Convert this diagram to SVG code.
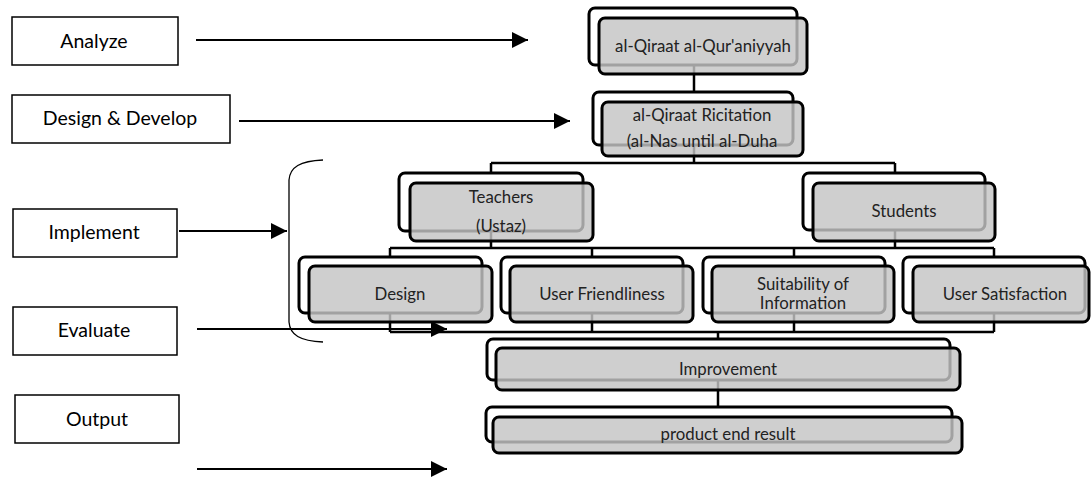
<svg xmlns="http://www.w3.org/2000/svg" width="1091" height="477" viewBox="0 0 1091 477">
<defs>
<style>
.lbl{fill:#fff;stroke:#000;stroke-width:1.5}
.lt{font-family:Lato,"Liberation Sans",sans-serif;font-size:19.5px;fill:#000;text-anchor:middle}
.back{fill:#fff;stroke:#000;stroke-width:3}
.front{fill:#c4c4c4;fill-opacity:0.82;stroke:#000;stroke-width:3}
.nt{font-family:Lato,"Liberation Sans",sans-serif;font-size:16.8px;fill:#222;text-anchor:middle}
.con{fill:none;stroke:#000;stroke-width:2.5}
.arr{fill:none;stroke:#000;stroke-width:2}
</style>
<marker id="ah2" viewBox="0 0 16 16" refX="16" refY="8" markerWidth="16" markerHeight="16" markerUnits="userSpaceOnUse" orient="auto">
<path d="M0,0 L16,8 L0,16 Z" fill="#000"/>
</marker>
</defs>

<g id="connectors">
<path class="con" d="M694,65 V92"/>
<path class="con" d="M694,145 V163 M491,163 H895 M491,163 V173 M895,163 V173"/>
<path class="con" d="M491,231 V248 M895,230 V248 M390,248 H994 M390,248 V257 M592,248 V257 M794,248 V257 M994,248 V257"/>
<path class="con" d="M390,313 V332 M592,313 V332 M794,313 V332 M994,313 V332 M390,332 H994 M718,332 V339"/>
<path class="con" d="M718,380 V407"/>
</g>

<g id="phase-arrows">
<path class="arr" d="M196,40 H528" marker-end="url(#ah2)"/>
<path class="arr" d="M239,121 H570" marker-end="url(#ah2)"/>
<path class="arr" d="M179,231 H287" marker-end="url(#ah2)"/>
<path class="arr" d="M197,329 H447" marker-end="url(#ah2)"/>
<path class="arr" d="M197,469 H447" marker-end="url(#ah2)"/>
<path fill="none" stroke="#000" stroke-width="1.3" d="M323,160 C300,161 290,167 289,180 L289,322 C290,335 300,341 323,342"/>
</g>

<g id="analyze"><rect class="lbl" x="12" y="17" width="166" height="48"/><text class="lt" x="94" y="48">Analyze</text></g>
<g id="design-develop"><rect class="lbl" x="12" y="95" width="218" height="48"/><text class="lt" x="120" y="125">Design &amp; Develop</text></g>
<g id="implement"><rect class="lbl" x="13" y="209" width="164" height="48"/><text class="lt" x="94" y="239">Implement</text></g>
<g id="evaluate"><rect class="lbl" x="13" y="307" width="164" height="48"/><text class="lt" x="94" y="337">Evaluate</text></g>
<g id="output"><rect class="lbl" x="15" y="395" width="164" height="48"/><text class="lt" x="97" y="426">Output</text></g>

<g id="quraniyyah">
<rect class="back" x="589" y="8" width="208" height="57" rx="6"/>
<rect class="front" x="599" y="18" width="208" height="56" rx="6"/>
<text class="nt" x="703" y="52">al-Qiraat al-Qur'aniyyah</text>
</g>
<g id="ricitation">
<rect class="back" x="593" y="92" width="200" height="53" rx="6"/>
<rect class="front" x="602" y="102" width="201" height="54" rx="6"/>
<text class="nt" x="702" y="121">al-Qiraat Ricitation</text>
<text class="nt" x="702" y="147">(al-Nas until al-Duha</text>
</g>
<g id="teachers">
<rect class="back" x="399" y="173" width="184" height="58" rx="6"/>
<rect class="front" x="410" y="183" width="183" height="58" rx="6"/>
<text class="nt" x="501" y="203">Teachers</text>
<text class="nt" x="501" y="232">(Ustaz)</text>
</g>
<g id="students">
<rect class="back" x="803" y="173" width="182" height="57" rx="6"/>
<rect class="front" x="813" y="183" width="182" height="58" rx="6"/>
<text class="nt" x="904" y="217">Students</text>
</g>
<g id="design">
<rect class="back" x="299" y="257" width="183" height="56" rx="6"/>
<rect class="front" x="309" y="266" width="183" height="56" rx="6"/>
<text class="nt" x="400" y="300">Design</text>
</g>
<g id="user-friendliness">
<rect class="back" x="501" y="257" width="182" height="56" rx="6"/>
<rect class="front" x="510" y="266" width="183" height="56" rx="6"/>
<text class="nt" x="602" y="300">User Friendliness</text>
</g>
<g id="suitability">
<rect class="back" x="703" y="257" width="182" height="56" rx="6"/>
<rect class="front" x="712" y="266" width="182" height="56" rx="6"/>
<text class="nt" x="803" y="290">Suitability of</text>
<text class="nt" x="803" y="309">Information</text>
</g>
<g id="user-satisfaction">
<rect class="back" x="903" y="257" width="182" height="56" rx="6"/>
<rect class="front" x="913" y="266" width="176" height="56" rx="6"/>
<text class="nt" x="1005" y="300">User Satisfaction</text>
</g>
<g id="improvement">
<rect class="back" x="487" y="339" width="463" height="41" rx="6"/>
<rect class="front" x="496" y="348" width="464" height="42" rx="6"/>
<text class="nt" x="728" y="375">Improvement</text>
</g>
<g id="product">
<rect class="back" x="486" y="407" width="466" height="35" rx="6"/>
<rect class="front" x="493" y="417" width="469" height="36" rx="6"/>
<text class="nt" x="728" y="440">product end result</text>
</g>
</svg>
